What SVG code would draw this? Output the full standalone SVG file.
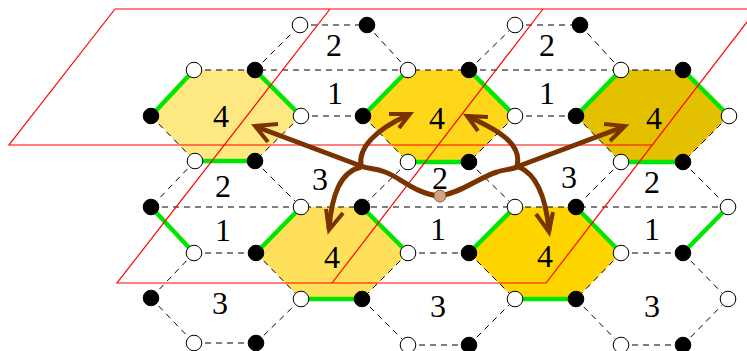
<svg xmlns="http://www.w3.org/2000/svg" width="747" height="351" viewBox="0 0 747 351">
<style>
.d{fill:none;stroke:#000;stroke-width:1;stroke-dasharray:6 5}
.g{fill:none;stroke:#00e600;stroke-width:4.5;stroke-linecap:butt}
.r{fill:none;stroke:#f00;stroke-width:1.2}
.a{fill:none;stroke:#7a3300;stroke-width:5;stroke-linecap:round;stroke-linejoin:round}
.h{fill:none;stroke:#7a3300;stroke-width:4;stroke-linecap:butt;stroke-linejoin:miter}
.b{fill:#000;stroke:#000;stroke-width:1}
.w{fill:#fff;stroke:#000;stroke-width:1}
text{font-family:"Liberation Serif","Times New Roman",serif;font-size:32px;fill:#000;text-anchor:middle}
</style>
<defs>
<circle id="bk" r="7.8" class="b"/>
<circle id="wh" r="7.8" class="w"/>
</defs>
<g id="hexagons">
<g id="hex1"><polygon points="151,116 194,70 255,70 301,116 255,161 195,161" fill="#fde882"/><text x="221" y="127">4</text></g>
<g id="hex2"><polygon points="363,116 408,70 469,70 515,116 469,162 408,162" fill="#ffd71a"/><text x="437" y="129">4</text></g>
<g id="hex3"><polygon points="576,116 621,70 683,70 729,116 683,162 621,162" fill="#e3c000"/><text x="654" y="129">4</text></g>
<g id="hex4"><polygon points="256,253 301,207 362,207 408,253 362,299 301,299" fill="#fee05a"/><text x="332" y="268">4</text></g>
<g id="hex5"><polygon points="469,253 515,207 576,207 621,253 576,299 515,299" fill="#ffd500"/><text x="545" y="267">4</text></g>
</g>
<g id="connectors">
<path class="d" d="M300,25H367M515,25H580M194,70H621M621,70H683M301,116H363M515,116H576M195,161H255M408,162H469M621,162H683M151,207H728M194,253H256M408,253H469M621,253H683M194,343H256M408,345H469M621,345H683"/>
<path class="d" d="M255,70L300,25M367,25L408,70M469,70L515,25M580,25L621,70M151,116L195,161M301,116L255,161M363,116L408,162M515,116L469,162M576,116L621,162M729,116L683,162M195,161L151,207M255,161L301,207M408,162L362,207M469,162L515,207M621,162L576,207M683,162L728,207M194,253L151,298M151,298L194,343M256,343L301,299M256,253L301,299M408,253L362,299M469,253L515,299M621,253L576,299M362,299L408,345M469,345L515,299M576,299L621,345M683,345L728,299M683,253L728,299"/>
<path class="g" d="M151,116L194,70M255,70L301,116M195,161H255M363,116L408,70M469,70L515,116M408,162H469M576,116L621,70M683,70L729,116M621,162H683M151,207L194,253M256,253L301,207M362,207L408,253M301,299H362M469,253L515,207M576,207L621,253M515,299H576M683,253L728,207"/>
</g>
<g id="labels">
<text x="334" y="56">2</text><text x="547" y="56">2</text>
<text x="335" y="104">1</text><text x="547" y="104">1</text>
<text x="320" y="190">3</text><text x="569" y="188">3</text>
<text x="223" y="197">2</text><text x="440" y="189">2</text><text x="652" y="193">2</text>
<text x="223" y="241">1</text><text x="438" y="240">1</text><text x="652" y="240">1</text>
<text x="220" y="314">3</text><text x="438" y="317">3</text><text x="652" y="317">3</text>
</g>
<g id="vertices">
<use href="#wh" x="300" y="25"/><use href="#bk" x="367" y="25"/><use href="#wh" x="515" y="25"/><use href="#bk" x="580" y="25"/>
<use href="#wh" x="194" y="70"/><use href="#bk" x="255" y="70"/><use href="#wh" x="408" y="70"/><use href="#bk" x="469" y="70"/><use href="#wh" x="621" y="70"/><use href="#bk" x="683" y="70"/>
<use href="#bk" x="151" y="116"/><use href="#wh" x="301" y="116"/><use href="#bk" x="363" y="116"/><use href="#wh" x="515" y="116"/><use href="#bk" x="576" y="116"/><use href="#wh" x="729" y="116"/>
<use href="#wh" x="195" y="161"/><use href="#bk" x="255" y="161"/><use href="#wh" x="408" y="162"/><use href="#bk" x="469" y="162"/><use href="#wh" x="621" y="162"/><use href="#bk" x="683" y="162"/>
<use href="#bk" x="151" y="207"/><use href="#wh" x="301" y="207"/><use href="#bk" x="362" y="207"/><use href="#wh" x="515" y="207"/><use href="#bk" x="576" y="207"/><use href="#wh" x="728" y="207"/>
<use href="#wh" x="194" y="253"/><use href="#bk" x="256" y="253"/><use href="#wh" x="408" y="253"/><use href="#bk" x="469" y="253"/><use href="#wh" x="621" y="253"/><use href="#bk" x="683" y="253"/>
<use href="#bk" x="151" y="298"/><use href="#wh" x="301" y="299"/><use href="#bk" x="362" y="299"/><use href="#wh" x="515" y="299"/><use href="#bk" x="576" y="299"/><use href="#wh" x="728" y="299"/>
<use href="#wh" x="194" y="343"/><use href="#bk" x="256" y="343"/><use href="#wh" x="408" y="345"/><use href="#bk" x="469" y="345"/><use href="#wh" x="621" y="345"/><use href="#bk" x="683" y="345"/>
</g>
<g id="cells">
<path class="r" d="M115,9H747M115,9L9,145H652M330,9L117,283H546L757,9M543,9L332,283"/>
</g>
<g id="arrows">
<path class="a" d="M440,196C415,194 400,177 385,172C375,168 368,169 361,166L257,127"/>
<path class="a" d="M440,196C463,192 478,178 497,172C505,169 512,170 519,166L623,127"/>
<path class="a" d="M361,166C358,148 375,130 408,115"/>
<path class="a" d="M517,166C522,146 503,132 469,117"/>
<path class="a" d="M361,167C340,172 332,195 329,228"/>
<path class="a" d="M519,167C538,175 546,200 549,230"/>
<path class="h" d="M278,124L255,126L268,142"/>
<path class="h" d="M389,114L410,114L399,128"/>
<path class="h" d="M488,117L467,116L478,131"/>
<path class="h" d="M604,124L625,126L610,141"/>
<path class="h" d="M326,209L329,230L343,213"/>
<path class="h" d="M536,214L549,232L553,212"/>
<g id="source"><circle cx="440" cy="196" r="6" fill="#d2a384" stroke="#8a5a30" stroke-width="1"/></g>
</g>
</svg>
